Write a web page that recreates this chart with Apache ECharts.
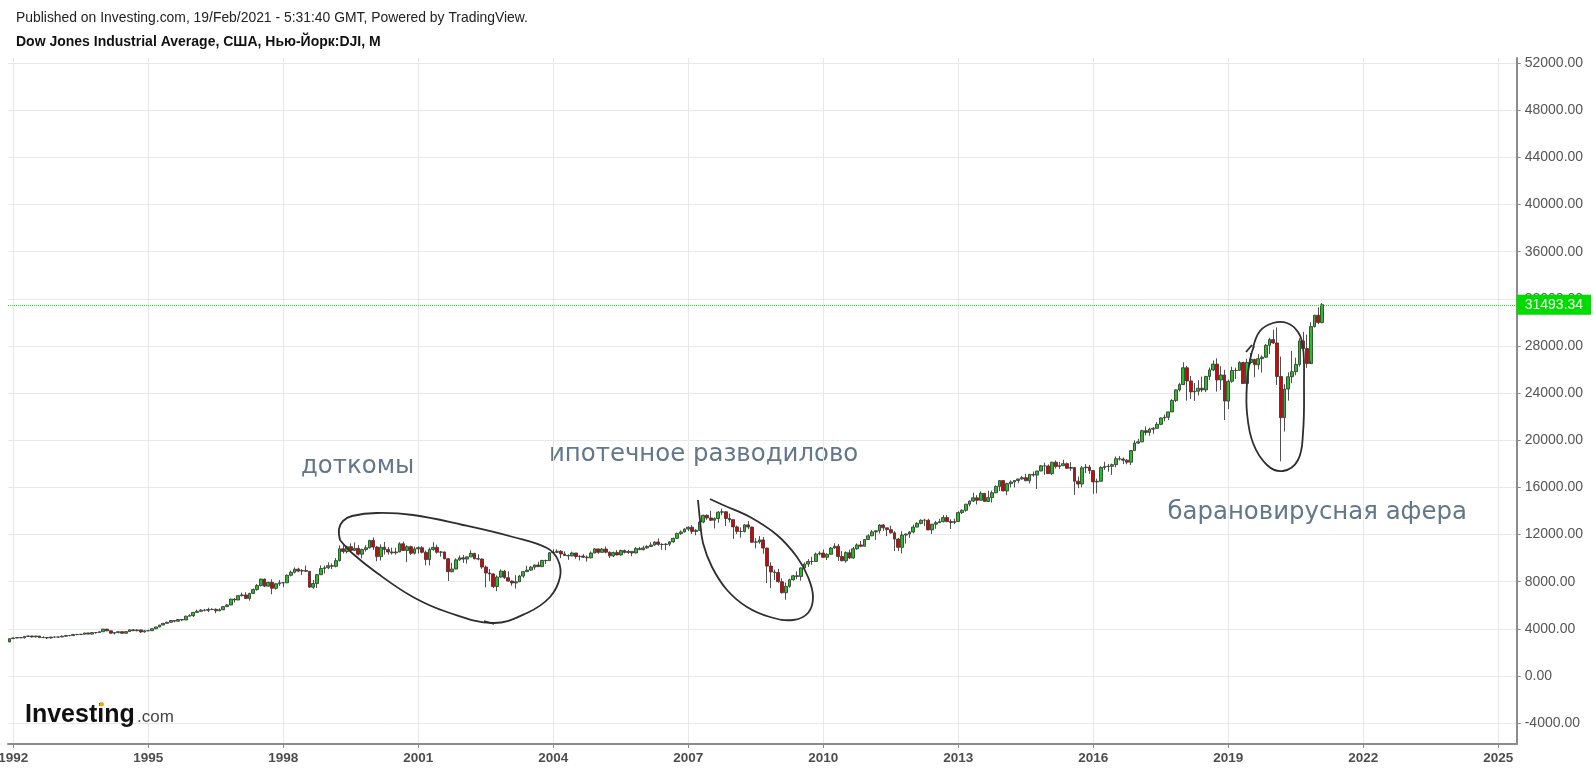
<!DOCTYPE html>
<html><head><meta charset="utf-8">
<script src="https://cdn.jsdelivr.net/npm/echarts@6/dist/echarts.min.js"></script>
<style>html,body{margin:0;padding:0;background:#fff;}#c{width:1593px;height:773px;}</style>
</head><body><div id="c"></div>
<script>
// Monthly DJI candles, first candle = Dec 1991 (month index 11 of 1991)
const startYear = 1991, startMonth = 11;
const firstOpen = 2894.7;
const closes = [
 3168.8,
 3223.4,3267.7,3235.5,3359.1,3396.9,3318.5,3393.8,3257.4,3271.7,3226.3,3305.2,3301.1,
 3310.0,3370.8,3435.1,3427.6,3527.4,3516.1,3539.5,3651.3,3555.1,3680.6,3683.9,3754.1,
 3978.4,3832.0,3636.0,3681.7,3758.4,3625.0,3764.5,3913.4,3843.2,3908.1,3739.2,3834.4,
 3843.9,4011.1,4157.7,4321.3,4465.1,4556.1,4708.5,4647.5,4789.1,4755.5,5074.5,5117.1,
 5395.3,5485.6,5587.1,5569.1,5643.2,5654.6,5528.9,5616.2,5882.2,6029.4,6521.7,6448.3,
 6813.1,6877.7,6583.5,7009.0,7331.0,7672.8,8222.6,7622.4,7945.3,7442.1,7823.1,7908.3,
 7906.5,8545.7,8799.8,9063.4,8900.0,8952.0,8883.3,7539.1,7842.6,8592.1,9116.6,9181.4,
 9358.8,9306.6,9786.2,10789.0,10559.7,10970.8,10655.2,10829.3,10337.0,10729.9,10877.8,11497.1,
 10940.5,10128.3,10921.9,10733.9,10522.3,10447.9,10522.0,11215.1,10650.9,10971.1,10414.5,10786.9,
 10887.4,10495.3,9878.8,10735.0,10911.9,10502.4,10522.8,9949.8,8847.6,9075.1,9851.6,10021.5,
 9920.0,10106.1,10403.9,9946.2,9925.3,9243.3,8736.6,8663.5,7591.9,8397.0,8896.1,8341.6,
 8053.8,7891.1,7992.1,8480.1,8850.3,8985.4,9233.8,9415.8,9275.1,9801.1,9782.5,10453.9,
 10488.1,10583.9,10357.7,10225.6,10188.5,10435.5,10139.7,10173.9,10080.3,10027.5,10428.0,10783.0,
 10489.9,10766.2,10503.8,10192.5,10467.5,10275.0,10640.9,10481.6,10568.7,10440.1,10805.9,10717.5,
 10864.9,10993.4,11109.3,11367.1,11168.3,11150.2,11185.7,11381.2,11679.1,12080.7,12221.9,12463.2,
 12621.7,12268.6,12354.4,13062.9,13627.6,13408.6,13212.0,13357.7,13895.6,13930.0,13371.7,13264.8,
 12650.4,12266.4,12262.9,12820.1,12638.3,11350.0,11378.0,11543.6,10850.7,9325.0,8829.0,8776.4,
 8000.9,7062.9,7608.9,8168.1,8500.3,8447.0,9171.6,9496.3,9712.3,9712.7,10344.8,10428.1,
 10067.3,10325.3,10856.6,11008.6,10136.6,9774.0,10465.9,10014.7,10788.1,11118.5,11006.0,11577.5,
 11891.9,12226.3,12319.7,12810.5,12569.8,12414.3,12143.2,11613.5,10913.4,11955.0,12045.7,12217.6,
 12632.9,12952.1,13212.0,13213.6,12393.5,12880.1,13008.7,13090.8,13437.1,13096.5,13025.6,13104.1,
 13860.6,14054.5,14578.5,14839.8,15115.6,14909.6,15499.5,14810.3,15129.7,15545.8,16086.4,16576.7,
 15698.9,16321.7,16457.7,16580.8,16717.2,16826.6,16563.3,17098.5,17042.9,17390.5,17828.2,17823.1,
 17165.0,18132.7,17776.1,17840.5,18010.7,17619.5,17690.5,16528.0,16284.7,17663.5,17719.9,17425.0,
 16466.3,16516.5,17685.1,17773.6,17787.2,17930.0,18432.2,18400.9,18308.2,18142.4,19123.6,19762.6,
 19864.1,20812.2,20663.2,20940.5,21008.7,21349.6,21891.1,21948.1,22405.1,23377.2,24272.4,24719.2,
 26149.4,25029.2,24103.1,24163.2,24415.8,24271.4,25415.2,25964.8,26458.3,25115.8,25538.5,23327.5,
 24999.7,25916.0,25928.7,26592.9,24815.0,26600.0,26864.3,26403.3,26916.8,27046.2,28051.4,28538.4,
 28256.0,25409.4,21917.2,24345.7,25383.1,25812.9,26428.3,28430.1,27781.7,26501.6,29638.6,30606.5,
 29982.6,31493.3
];
const highs = [
 3173,
 3272,3290,3291,3381,3414,3413,3402,3400,3376,3290,3313,3334,
 3343,3450,3490,3483,3554,3548,3580,3660,3661,3700,3716,3800,
 3985,3979,3855,3721,3780,3795,3776,3936,3968,3954,3940,3876,
 3932,4017,4173,4331,4476,4600,4736,4711,4802,4801,5106,5236,
 5403,5630,5671,5690,5795,5737,5734,5744,5937,6096,6558,6606,
 6883,7079,7112,7057,7420,7796,8254,8259,8000,8201,7881,8149,
 7978,8610,8935,9211,9187,9069,9367,8906,8154,8658,9380,9374,
 9643,9552,10006,11076,11107,11055,11252,11328,11100,10800,11090,11569,
 11750,11041,11165,11375,10940,10880,10880,11350,11400,11100,11060,10977,
 11005,11013,10640,10890,11350,11140,10610,10550,10000,9600,9980,10230,
 10260,10140,10670,10440,10320,9970,9380,9077,8720,8540,9043,9000,
 8870,8110,8560,8580,8898,9350,9340,9460,9690,9850,9870,10500,
 10750,10750,10680,10570,10320,10550,10390,10230,10340,10240,10570,10870,
 10790,10860,10985,10560,10550,10680,10720,10720,10700,10590,10940,10960,
 11050,11100,11340,11420,11670,11260,11270,11420,11730,12170,12360,12530,
 12690,12800,12450,13160,13690,13720,14020,13460,14000,14200,13950,13780,
 13280,12770,12600,12880,13140,12660,11700,11870,11790,10890,9650,9030,
 9090,8280,7930,8250,8580,8880,9200,9630,9920,10120,10470,10580,
 10730,10410,10930,11260,11210,10600,10570,10720,10950,11250,11450,11630,
 12020,12390,12350,12880,12880,12570,12750,12290,11720,12280,12100,12300,
 12840,13050,13290,13340,13340,12900,13160,13330,13650,13660,13290,13360,
 13970,14150,14590,14890,15540,15340,15660,15500,15710,15720,16170,16590,
 16590,16400,16590,16630,16740,16980,17150,17150,17350,17400,17900,18100,
 17950,18170,18290,18150,18350,18110,18140,17710,16930,17800,17980,17900,
 17430,16740,17790,18170,17990,18020,18620,18670,18540,18400,19160,19990,
 20130,20890,21170,21070,21110,21540,21930,22180,22420,23490,24330,24880,
 26617,26310,25450,24860,25090,25400,25460,26170,26770,26950,26280,25980,
 25150,26240,26160,26700,26660,26910,27400,26900,27300,27200,28170,28700,
 29370,29570,27100,24760,25760,27580,27000,28660,29200,28960,30000,30640,
 31270,31640
];
const lows = [
 2863,
 3142,3205,3208,3181,3334,3264,3271,3250,3230,3136,3194,3255,
 3240,3293,3350,3370,3413,3464,3480,3530,3535,3540,3595,3680,
 3738,3800,3590,3520,3625,3614,3616,3745,3830,3790,3650,3674,
 3816,3832,3979,4146,4307,4452,4540,4550,4624,4671,4753,5058,
 5000,5380,5470,5481,5420,5590,5323,5500,5592,5880,6014,6242,
 6433,6743,6573,6391,6972,7234,7606,7539,7581,6936,7325,7651,
 7539,7880,8443,8700,8808,8580,8840,7480,7400,7467,8565,8695,
 9059,9063,9211,9713,10396,10400,10603,10600,10213,9975,10560,10801,
 10700,9731,9796,10306,10300,10300,10300,10500,10600,9654,10270,10300,
 10380,10400,9390,9390,10630,10370,10130,9890,8062,8800,9060,9760,
 9600,9530,10090,9900,9810,9100,7532,8043,7460,7197,8307,8240,
 8000,7660,7416,7990,8330,8850,8910,9030,9250,9270,9500,9780,
 10350,10440,10000,10200,9850,10150,9950,9800,10020,9700,9990,10420,
 10360,10460,10400,10010,10080,10230,10200,10400,10370,10160,10400,10700,
 10660,10800,10950,11030,11050,10700,10680,11020,11300,11620,11970,12170,
 12300,12050,11940,12330,12960,13250,13150,12520,13000,13640,12720,13030,
 11630,12050,11730,12170,12450,11290,10830,11220,10370,7880,7450,8150,
 7910,7000,6470,7490,8080,8210,8090,9150,9250,9430,9680,10240,
 10020,9840,10320,10800,9770,9730,9610,9930,9940,10710,10930,11000,
 11570,11860,11550,12090,12310,11860,12080,10600,10600,10400,11230,11720,
 12100,12620,12860,12710,12390,12040,12490,12980,13040,13040,12470,12880,
 13100,13740,13940,14400,14760,14550,14900,14760,14780,14720,15500,15700,
 15690,15340,16000,16000,16350,16650,16540,16330,16900,15860,17380,17070,
 17140,17040,17600,17580,17840,17580,17400,15370,15940,16010,17210,17140,
 15450,15500,16510,17480,17330,17060,17710,18280,17990,17960,17890,19120,
 19680,19830,20410,20380,20550,20990,21280,21600,21710,22400,23240,24140,
 24680,23360,23510,23340,23800,24080,24080,25120,25860,24120,24270,21710,
 22640,24880,25200,25880,24800,24680,26440,25340,26000,25740,27000,27330,
 28170,24680,18213,20740,23360,24840,25520,26240,26540,26140,26710,29570,
 29860,29920
];
const yearTicks = [1992,1995,1998,2001,2004,2007,2010,2013,2016,2019,2022,2025];
const priceTicks = [-4000,0,4000,8000,12000,16000,20000,24000,28000,32000,36000,40000,44000,48000,52000];
const lastPrice = 31493.34;
const titleLine1 = 'Published on Investing.com, 19/Feb/2021 - 5:31:40 GMT, Powered by TradingView.';
const titleLine2 = 'Dow Jones Industrial Average, США, Нью-Йорк:DJI, M';
const notes = ['доткомы', 'ипотечное разводилово', 'барановирусная афера'];

// monthly open = previous month's close
const candles = closes.map((c, i) => {
  const x = startYear + (startMonth + i) / 12;
  const o = i === 0 ? firstOpen : closes[i - 1];
  return [x, o, c, lows[i], highs[i]];
});

const FONT = '"Liberation Sans", Arial, Helvetica, sans-serif';
const NOTE_FONT = '24.4px "DejaVu Sans", Verdana, sans-serif';
const NOTE_COLOR = '#627789';
const INK = '#2e2e2e';

const loop1 = [[340,540],[339,529],[343,521],[352,516],[377,513],[413,515],[463,525],[513,537],[547,548],[558,560],[560,577],[550,597],[527,613],[493,623],[447,612],[413,597],[377,573],[352,553],[340,540]];
const loop2 = [[698,500],[700,520],[703,543],[712,567],[727,590],[747,607],[770,617],[793,620],[808,613],[813,597],[808,577],[797,557],[777,535],[750,517],[723,505],[710,499]];
const loop3 = [[1253,348],[1260,331],[1273,323],[1287,323],[1298,332],[1303,347],[1304,383],[1303,433],[1298,460],[1283,471],[1267,465],[1253,443],[1247,413],[1247,383],[1250,360],[1254,346]];

const chart = echarts.init(document.getElementById('c'), null, {renderer: 'canvas'});
chart.setOption({
  animation: false,
  backgroundColor: '#ffffff',
  textStyle: {fontFamily: FONT},
  grid: {left: 8, right: 76.3, top: 58, bottom: 29, containLabel: false, outerBoundsMode: 'none'},
  xAxis: {
    type: 'value', min: 1991.882, max: 2025.409,
    axisLine: {show: true, onZero: false, lineStyle: {color: '#8c8c8c', width: 2}},
    axisTick: {show: true, customValues: yearTicks, length: 4, lineStyle: {color: '#8c8c8c'}},
    axisLabel: {customValues: yearTicks, formatter: v => String(Math.round(v)), fontWeight: 'bold', fontSize: 13.5, color: '#4d4d4d', margin: 7, fontFamily: FONT},
    splitLine: {show: true, lineStyle: {color: '#e8e8e8', width: 1}}
  },
  yAxis: {
    type: 'value', position: 'right', min: -5769, max: 52428,
    axisLine: {show: true, lineStyle: {color: '#8c8c8c', width: 2}},
    axisTick: {show: true, customValues: priceTicks, length: 4, lineStyle: {color: '#8c8c8c'}},
    axisLabel: {customValues: priceTicks, formatter: v => v.toFixed(2), fontSize: 14, color: '#555555', margin: 8, fontFamily: FONT},
    splitLine: {show: true, lineStyle: {color: '#e8e8e8', width: 1}}
  },
  series: [{
    type: 'candlestick',
    data: candles,
    encode: {x: 0, y: [1, 2, 3, 4]},
    barWidth: 3.3,
    clip: true,
    itemStyle: {color: '#1cc41c', color0: '#dd0000', borderColor: '#3c3c3c', borderColor0: '#3c3c3c', borderWidth: 0.9},
    markLine: {
      silent: true, symbol: ['none', 'none'],
      data: [{yAxis: lastPrice}],
      lineStyle: {color: '#1ee01e', type: 'dotted', width: 1},
      label: {position: 'end', distance: 0, formatter: lastPrice.toFixed(2), backgroundColor: '#00dc00', color: '#ffffff', fontSize: 14, fontFamily: FONT, padding: [3, 8, 3, 8]}
    }
  }],
  graphic: [
    {type: 'text', x: 16, y: 18, style: {text: titleLine1, font: '13.9px ' + FONT, fill: '#222', verticalAlign: 'middle'}},
    {type: 'text', x: 16, y: 42, style: {text: titleLine2, font: 'bold 14px ' + FONT, fill: '#111', verticalAlign: 'middle'}},
    {type: 'text', x: 301, y: 466.5, style: {text: notes[0], font: NOTE_FONT, fill: NOTE_COLOR, verticalAlign: 'middle'}},
    {type: 'text', x: 549, y: 455, style: {text: notes[1], font: NOTE_FONT, fill: NOTE_COLOR, verticalAlign: 'middle'}},
    {type: 'text', x: 1167.5, y: 512.3, style: {text: notes[2], font: NOTE_FONT, fill: NOTE_COLOR, verticalAlign: 'middle'}},
    {type: 'polyline', shape: {points: loop1, smooth: 0.4}, style: {stroke: INK, lineWidth: 1.8, fill: null}, z: 100},
    {type: 'line', shape: {x1: 484, y1: 621, x2: 494, y2: 624}, style: {stroke: INK, lineWidth: 1.8}, z: 100},
    {type: 'polyline', shape: {points: loop2, smooth: 0.4}, style: {stroke: INK, lineWidth: 1.8, fill: null}, z: 100},
    {type: 'polyline', shape: {points: loop3, smooth: 0.4}, style: {stroke: INK, lineWidth: 1.8, fill: null}, z: 100},
    {type: 'line', shape: {x1: 1246, y1: 352, x2: 1252, y2: 345}, style: {stroke: INK, lineWidth: 1.8}, z: 100},
    {type: 'text', x: 25, y: 715.5, style: {text: 'Investing', font: 'bold 25px ' + FONT, fill: '#111', verticalAlign: 'middle'}, z: 100},
    {type: 'text', x: 137, y: 717.5, style: {text: '.com', font: '17px ' + FONT, fill: '#444', verticalAlign: 'middle'}, z: 100},
    {type: 'circle', shape: {cx: 101.7, cy: 704.3, r: 2.3}, style: {fill: '#f6a321'}, z: 101}
  ]
});
</script>
</body></html>
